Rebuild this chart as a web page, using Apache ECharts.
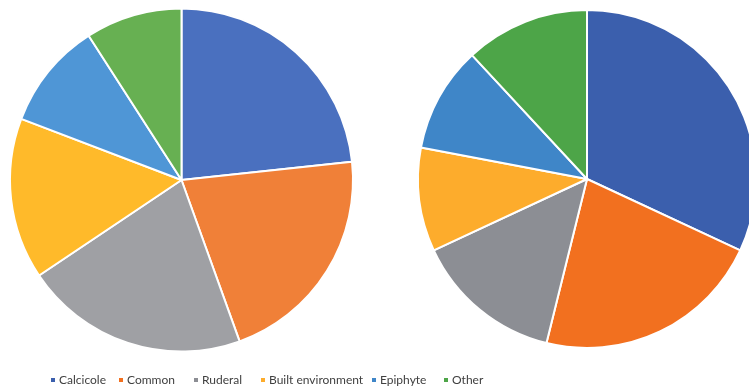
<!DOCTYPE html>
<html>
<head>
<meta charset="utf-8">
<script src="https://cdn.jsdelivr.net/npm/echarts@6/dist/echarts.min.js"></script>
<style>html,body{margin:0;padding:0;background:#fff;}#c{width:749px;height:390px;}</style>
</head>
<body>
<div id="c"></div>
<script>
var categories = ['Calcicole', 'Common', 'Ruderal', 'Built environment', 'Epiphyte', 'Other'];
var leftValues = [23.3, 21.2, 21.1, 15.2, 10.1, 9.1];
var rightValues = [31.9, 21.9, 14.2, 9.9, 10.1, 11.9];
var leftColors = ['#4a70bf', '#f08038', '#9fa0a4', '#ffba2a', '#4f96d6', '#67b052'];
var rightColors = ['#3b5fad', '#f2701f', '#8c8e94', '#fdac2c', '#3f86c8', '#4da548'];
var legendLefts = [49, 117, 192, 259, 370, 442];

function build(values, colors) {
  return categories.map(function (c, i) {
    return { name: c, value: values[i], itemStyle: { color: colors[i] } };
  });
}

var legends = categories.map(function (c, i) {
  return {
    data: [c],
    left: legendLefts[i],
    top: 374,
    padding: 0,
    icon: 'rect',
    itemWidth: 6,
    itemHeight: 6,
    selectedMode: false,
    textStyle: { fontFamily: 'Lato', fontSize: 12, color: '#404040', padding: [0, 0, 0, -2] }
  };
});

var chart = echarts.init(document.getElementById('c'), null, { renderer: 'canvas' });
chart.setOption({
  backgroundColor: '#ffffff',
  animation: false,
  legend: legends,
  series: [
    {
      type: 'pie',
      center: [587, 179],
      radius: [0, 169],
      startAngle: 90,
      clockwise: true,
      label: { show: false },
      labelLine: { show: false },
      itemStyle: { borderColor: '#ffffff', borderWidth: 2 },
      emphasis: { disabled: true },
      data: build(rightValues, rightColors)
    },
    {
      type: 'pie',
      center: [181.5, 180],
      radius: [0, 171.5],
      startAngle: 90,
      clockwise: true,
      label: { show: false },
      labelLine: { show: false },
      itemStyle: { borderColor: '#ffffff', borderWidth: 2 },
      emphasis: { disabled: true },
      data: build(leftValues, leftColors)
    }
  ]
});
</script>
</body>
</html>
